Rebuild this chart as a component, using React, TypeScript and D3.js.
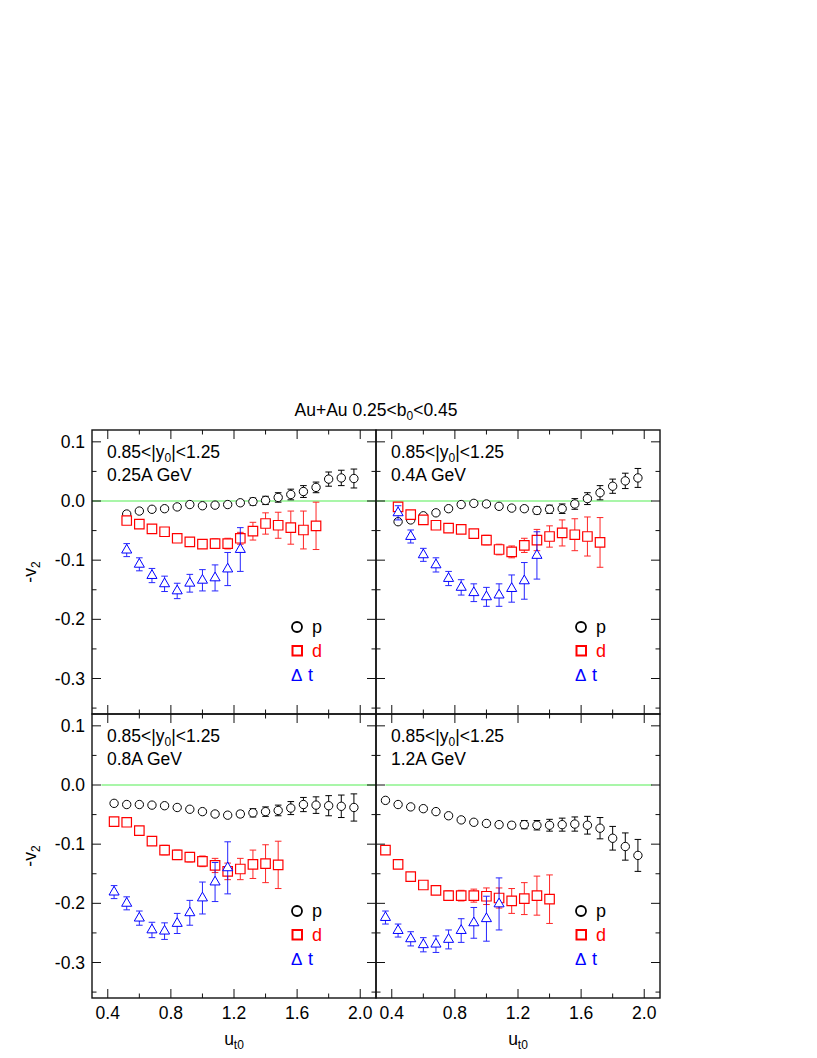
import React from 'react';
import * as d3 from 'd3';

// beam energies, one per panel (row-major order)
const energies = ['0.25A GeV', '0.4A GeV', '0.8A GeV', '1.2A GeV'];

const xMajorTicks = [0.4, 0.8, 1.2, 1.6, 2.0];
const xMinorTicks = [0.6, 1.0, 1.4, 1.8];
const yMajorTicks = [0.1, 0.0, -0.1, -0.2, -0.3];
const yMinorTicks = [0.05, -0.05, -0.15, -0.25, -0.35];

// [u_t0, -v2, error]
const p025 = [
  [0.52, -0.022, 0.002], [0.60, -0.017, 0.002], [0.68, -0.014, 0.002], [0.76, -0.013, 0.002],
  [0.84, -0.010, 0.002], [0.92, -0.006, 0.002], [1.00, -0.008, 0.002], [1.08, -0.007, 0.003],
  [1.16, -0.006, 0.003], [1.24, -0.003, 0.004], [1.32, -0.001, 0.006], [1.40, 0.001, 0.007],
  [1.48, 0.006, 0.008], [1.56, 0.011, 0.009], [1.64, 0.016, 0.010], [1.72, 0.023, 0.009],
  [1.80, 0.037, 0.012], [1.88, 0.039, 0.013], [1.96, 0.038, 0.016],
];
const d025 = [
  [0.52, -0.033, 0.004], [0.60, -0.039, 0.004], [0.68, -0.047, 0.005], [0.76, -0.052, 0.006],
  [0.84, -0.063, 0.007], [0.92, -0.069, 0.006], [1.00, -0.073, 0.007], [1.08, -0.072, 0.008],
  [1.16, -0.072, 0.009], [1.24, -0.063, 0.010], [1.32, -0.051, 0.015], [1.40, -0.038, 0.018],
  [1.48, -0.041, 0.022], [1.56, -0.045, 0.028], [1.64, -0.049, 0.032], [1.72, -0.042, 0.040],
];
const t025 = [
  [0.52, -0.083, 0.011], [0.60, -0.107, 0.011], [0.68, -0.126, 0.012], [0.76, -0.140, 0.013],
  [0.84, -0.152, 0.013], [0.92, -0.139, 0.015], [1.00, -0.134, 0.018], [1.08, -0.130, 0.022],
  [1.16, -0.115, 0.028], [1.24, -0.082, 0.037],
];

const p04 = [
  [0.44, -0.035, 0.002], [0.52, -0.032, 0.002], [0.60, -0.025, 0.002], [0.68, -0.020, 0.002],
  [0.76, -0.013, 0.002], [0.84, -0.006, 0.002], [0.92, -0.004, 0.002], [1.00, -0.005, 0.002],
  [1.08, -0.009, 0.003], [1.16, -0.012, 0.003], [1.24, -0.013, 0.004], [1.32, -0.016, 0.006],
  [1.40, -0.014, 0.007], [1.48, -0.013, 0.008], [1.56, -0.005, 0.009], [1.64, 0.004, 0.010],
  [1.72, 0.014, 0.012], [1.80, 0.025, 0.012], [1.88, 0.034, 0.013], [1.96, 0.039, 0.016],
];
const d04 = [
  [0.44, -0.010, 0.006], [0.52, -0.023, 0.005], [0.60, -0.032, 0.005], [0.68, -0.041, 0.005],
  [0.76, -0.046, 0.005], [0.84, -0.048, 0.005], [0.92, -0.055, 0.006], [1.00, -0.066, 0.008],
  [1.08, -0.082, 0.009], [1.16, -0.086, 0.010], [1.24, -0.075, 0.012], [1.32, -0.066, 0.018],
  [1.40, -0.060, 0.018], [1.48, -0.054, 0.022], [1.56, -0.057, 0.027], [1.64, -0.060, 0.033],
  [1.72, -0.070, 0.042],
];
const t04 = [
  [0.44, -0.020, 0.012], [0.52, -0.060, 0.011], [0.60, -0.091, 0.011], [0.68, -0.108, 0.012],
  [0.76, -0.131, 0.012], [0.84, -0.146, 0.013], [0.92, -0.155, 0.015], [1.00, -0.162, 0.016],
  [1.08, -0.159, 0.019], [1.16, -0.148, 0.023], [1.24, -0.135, 0.031], [1.32, -0.092, 0.040],
];

const p08 = [
  [0.44, -0.031, 0.002], [0.52, -0.033, 0.002], [0.60, -0.033, 0.002], [0.68, -0.034, 0.002],
  [0.76, -0.035, 0.002], [0.84, -0.038, 0.002], [0.92, -0.041, 0.003], [1.00, -0.045, 0.003],
  [1.08, -0.049, 0.003], [1.16, -0.051, 0.004], [1.24, -0.049, 0.005], [1.32, -0.047, 0.007],
  [1.40, -0.045, 0.008], [1.48, -0.043, 0.009], [1.56, -0.039, 0.011], [1.64, -0.033, 0.012],
  [1.72, -0.034, 0.014], [1.80, -0.035, 0.017], [1.88, -0.036, 0.019], [1.96, -0.038, 0.023],
];
const d08 = [
  [0.44, -0.062, 0.006], [0.52, -0.063, 0.006], [0.60, -0.077, 0.006], [0.68, -0.095, 0.007],
  [0.76, -0.110, 0.008], [0.84, -0.118, 0.008], [0.92, -0.122, 0.008], [1.00, -0.129, 0.009],
  [1.08, -0.136, 0.012], [1.16, -0.146, 0.014], [1.24, -0.142, 0.018], [1.32, -0.134, 0.024],
  [1.40, -0.133, 0.032], [1.48, -0.135, 0.040],
];
const t08 = [
  [0.44, -0.181, 0.011], [0.52, -0.200, 0.011], [0.60, -0.225, 0.012], [0.68, -0.245, 0.013],
  [0.76, -0.247, 0.014], [0.84, -0.234, 0.017], [0.92, -0.216, 0.021], [1.00, -0.191, 0.027],
  [1.08, -0.164, 0.033], [1.16, -0.140, 0.044],
];

const p12 = [
  [0.36, -0.026, 0.002], [0.44, -0.033, 0.002], [0.52, -0.037, 0.002], [0.60, -0.040, 0.002],
  [0.68, -0.045, 0.002], [0.76, -0.052, 0.002], [0.84, -0.059, 0.003], [0.92, -0.063, 0.003],
  [1.00, -0.065, 0.003], [1.08, -0.067, 0.004], [1.16, -0.068, 0.005], [1.24, -0.067, 0.007],
  [1.32, -0.068, 0.008], [1.40, -0.068, 0.010], [1.48, -0.067, 0.011], [1.56, -0.066, 0.012],
  [1.64, -0.068, 0.015], [1.72, -0.073, 0.018], [1.80, -0.090, 0.020], [1.88, -0.104, 0.023],
  [1.96, -0.119, 0.027],
];
const d12 = [
  [0.36, -0.110, 0.005], [0.44, -0.134, 0.005], [0.52, -0.155, 0.005], [0.60, -0.169, 0.006],
  [0.68, -0.178, 0.007], [0.76, -0.187, 0.008], [0.84, -0.187, 0.009], [0.92, -0.187, 0.011],
  [1.00, -0.188, 0.014], [1.08, -0.191, 0.017], [1.16, -0.196, 0.021], [1.24, -0.192, 0.027],
  [1.32, -0.187, 0.033], [1.40, -0.193, 0.041],
];
const t12 = [
  [0.36, -0.224, 0.011], [0.44, -0.246, 0.011], [0.52, -0.260, 0.012], [0.60, -0.270, 0.012],
  [0.68, -0.269, 0.014], [0.76, -0.261, 0.016], [0.84, -0.246, 0.020], [0.92, -0.233, 0.026],
  [1.00, -0.226, 0.038], [1.08, -0.201, 0.044],
];

// u range covered by the green zero line in each panel
const zeroLineRanges = [[0.3, 2.1], [0.3, 2.05], [0.36, 2.1], [0.36, 2.05]];

const panelData = [
  [p025, d025, t025],
  [p04, d04, t04],
  [p08, d08, t08],
  [p12, d12, t12],
];

const species = [
  { name: 'p', color: '#000000', symbol: d3.symbolCircle, size: 55, sw: 1 },
  { name: 'd', color: '#ff0000', symbol: d3.symbolSquare, size: 90, sw: 1.2 },
  { name: 't', color: '#0000ff', symbol: d3.symbolTriangle, size: 44, sw: 1 },
];

const FONT = "'Liberation Sans', Arial, Helvetica, sans-serif";
const FS = 17.5;
const SUB = 12;
const left0 = 92;
const top0 = 430;
const pw = 284;
const ph = 284;

const x = d3.scaleLinear().domain([0.3, 2.1]).range([0, pw]);
const y = d3.scaleLinear().domain([0.12, -0.36]).range([0, ph]);

function Panel({ idx }) {
  const col = idx % 2;
  const row = Math.floor(idx / 2);
  const ox = left0 + col * pw;
  const oy = top0 + row * ph;
  const [z0, z1] = zeroLineRanges[idx];

  return (
    <g transform={`translate(${ox},${oy})`}>
      <line x1={x(z0)} x2={x(z1)} y1={y(0)} y2={y(0)} stroke="#55ee55" strokeWidth={1.2} />

      {panelData[idx].map((series, si) => {
        const sp = species[si];
        const sym = d3.symbol(sp.symbol, sp.size)();
        return (
          <g key={sp.name}>
            {series.map(([u, v, e], i) => {
              const cx = x(u);
              return (
                <g key={i} stroke={sp.color} strokeWidth={1} opacity={si === 0 ? 1 : 0.85}>
                  <line x1={cx} x2={cx} y1={y(v + e)} y2={y(v - e)} />
                  <line x1={cx - 3.3} x2={cx + 3.3} y1={y(v + e)} y2={y(v + e)} />
                  <line x1={cx - 3.3} x2={cx + 3.3} y1={y(v - e)} y2={y(v - e)} />
                </g>
              );
            })}
            {series.map(([u, v], i) => (
              <path key={'m' + i} d={sym} transform={`translate(${x(u)},${y(v)})`}
                fill="white" stroke={sp.color} strokeWidth={sp.sw} />
            ))}
          </g>
        );
      })}

      {/* ticks on all four sides, pointing inward */}
      <g stroke="#111" strokeWidth={1}>
        {xMajorTicks.map(t => (
          <g key={'xM' + t}>
            <line x1={x(t)} x2={x(t)} y1={ph} y2={ph - 9} />
            <line x1={x(t)} x2={x(t)} y1={0} y2={9} />
          </g>
        ))}
        {xMinorTicks.map(t => (
          <g key={'xm' + t}>
            <line x1={x(t)} x2={x(t)} y1={ph} y2={ph - 4.5} />
            <line x1={x(t)} x2={x(t)} y1={0} y2={4.5} />
          </g>
        ))}
        {yMajorTicks.map(t => (
          <g key={'yM' + t}>
            <line x1={0} x2={9} y1={y(t)} y2={y(t)} />
            <line x1={pw} x2={pw - 9} y1={y(t)} y2={y(t)} />
          </g>
        ))}
        {yMinorTicks.map(t => (
          <g key={'ym' + t}>
            <line x1={0} x2={4.5} y1={y(t)} y2={y(t)} />
            <line x1={pw} x2={pw - 4.5} y1={y(t)} y2={y(t)} />
          </g>
        ))}
      </g>
      <rect x={0} y={0} width={pw} height={ph} fill="none" stroke="#111" strokeWidth={1.4} />

      <text x={15} y={28} fontSize={FS} fill="#000">
        0.85&lt;|y<tspan fontSize={SUB} dy={4}>0</tspan><tspan dy={-4}>|&lt;1.25</tspan>
      </text>
      <text x={15} y={51} fontSize={FS} fill="#000">{energies[idx]}</text>

      {/* legend */}
      <circle cx={205} cy={197} r={5} fill="none" stroke="#000" strokeWidth={1.8} />
      <text x={220} y={203} fontSize={18} fill="#000">p</text>
      <rect x={200.5} y={216} width={9.5} height={9.5} fill="none" stroke="#ff0000" strokeWidth={2} />
      <text x={220} y={227} fontSize={18} fill="#ff0000">d</text>
      <text x={199} y={251} fontSize={17} fill="#0000ff">Δ</text>
      <text x={216} y={251} fontSize={18} fill="#0000ff">t</text>

      {col === 0 && yMajorTicks.map(t => (
        <text key={'yl' + t} x={-7} y={y(t)} dy="0.35em" textAnchor="end" fontSize={FS}>
          {d3.format('.1f')(t).replace('−', '-')}
        </text>
      ))}
      {col === 0 && (
        <text transform={`translate(${36 - ox},${ph / 2}) rotate(-90)`} textAnchor="middle" fontSize={FS}>
          -v<tspan fontSize={SUB} dy={4}>2</tspan>
        </text>
      )}
      {row === 1 && xMajorTicks.map(t => (
        <text key={'xl' + t} x={x(t)} y={ph + 21} textAnchor="middle" fontSize={FS}>
          {d3.format('.1f')(t)}
        </text>
      ))}
      {row === 1 && (
        <text x={pw / 2} y={ph + 47} textAnchor="middle" fontSize={FS}>
          u<tspan fontSize={SUB} dy={4}>t0</tspan>
        </text>
      )}
    </g>
  );
}

export default function App() {
  return (
    <svg width={817} height={1058} style={{ position: 'absolute', left: 0, top: 0, background: 'white' }}
      fontFamily={FONT}>
      <rect width={817} height={1058} fill="white" />
      <text x={left0 + pw} y={416} textAnchor="middle" fontSize={FS}>
        Au+Au 0.25&lt;b<tspan fontSize={SUB} dy={4}>0</tspan><tspan dy={-4}>&lt;0.45</tspan>
      </text>
      {[0, 1, 2, 3].map(i => <Panel key={i} idx={i} />)}
    </svg>
  );
}
